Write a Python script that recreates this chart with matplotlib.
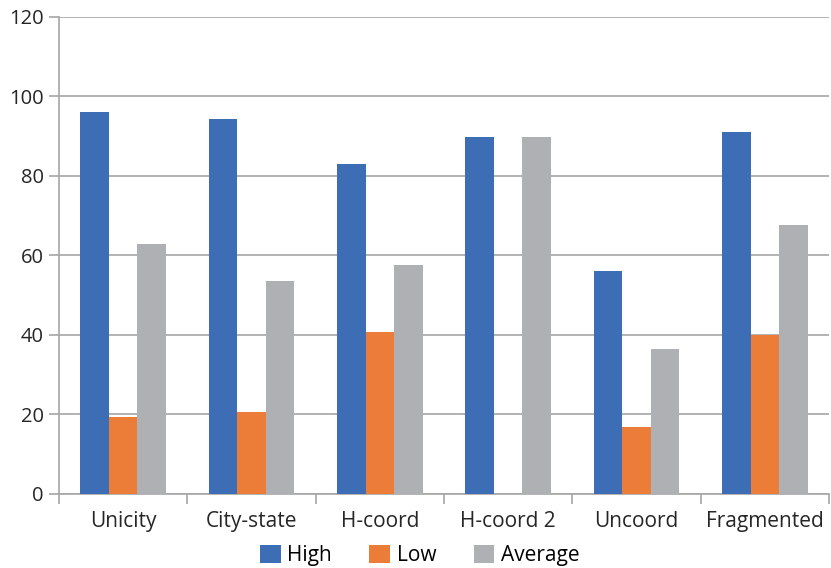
import matplotlib.pyplot as plt
import numpy as np

categories = ["Unicity", "City-state", "H-coord", "H-coord 2", "Uncoord", "Fragmented"]
high = [96.0, 94.3, 82.9, 89.7, 56.0, 91.0]
low = [19.4, 20.7, 40.8, 0.0, 16.9, 40.1]
average = [63.0, 53.7, 57.7, 89.7, 36.5, 67.6]

plt.rcParams['font.family'] = ['Open Sans', 'DejaVu Sans']

fig = plt.figure(figsize=(8.31, 5.68), dpi=100)
ax = fig.add_axes([0.071, 0.1303, 0.9266, 0.8398])

x = np.arange(len(categories))
w = 0.223
ax.bar(x - w, high, w, color='#3d6db5', label='High', zorder=3)
ax.bar(x, low, w, color='#ec7d38', label='Low', zorder=3)
ax.bar(x + w, average, w, color='#afb0b3', label='Average', zorder=3)

ax.set_xlim(-0.5, len(categories) - 0.5)
ax.set_ylim(0, 120)
ax.set_yticks(range(0, 121, 20))
ax.yaxis.grid(True, color='#a6a6a6', linewidth=1.2, zorder=0)

# category labels centred, tick marks between categories
ax.set_xticks(x)
ax.set_xticklabels(categories)
ax.set_xticks(np.arange(-0.5, len(categories)), minor=True)
ax.tick_params(axis='x', which='major', length=0, labelsize=15, pad=12, colors='#262626')
ax.tick_params(axis='x', which='minor', length=7, color='#a6a6a6', width=1.2)
ax.tick_params(axis='y', length=7, width=1.2, labelsize=14.5, pad=4)
ax.tick_params(axis='y', colors='#a6a6a6', labelcolor='#262626')

for s in ['top', 'right']:
    ax.spines[s].set_visible(False)
for s in ['left', 'bottom']:
    ax.spines[s].set_color('#a6a6a6')
    ax.spines[s].set_linewidth(1.2)

fig.legend(loc='lower center', bbox_to_anchor=(0.505, -0.03), ncol=3, frameon=False,
           fontsize=15, handlelength=1.0, handleheight=1.0, handletextpad=0.3,
           columnspacing=1.8)

fig.savefig('out.png', dpi=100)
